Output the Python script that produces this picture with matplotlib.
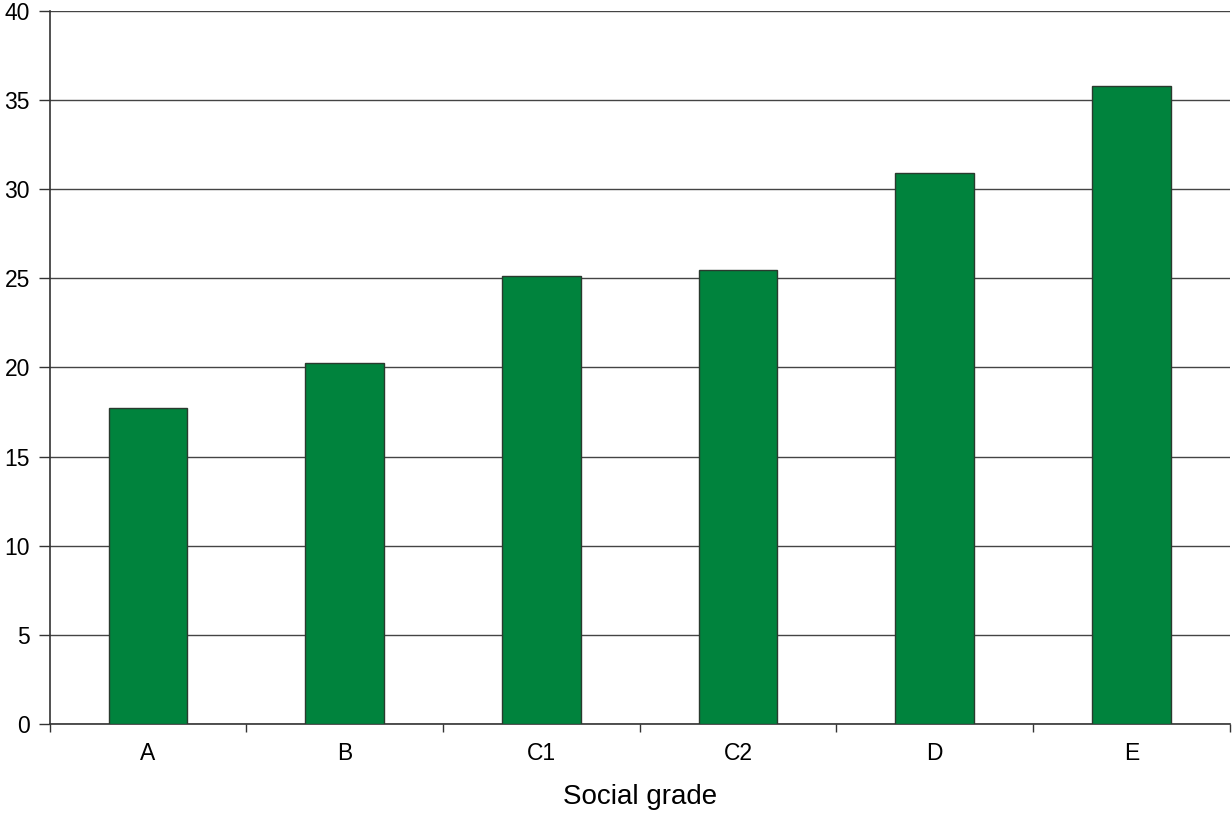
import matplotlib
matplotlib.use("Agg")
import matplotlib.pyplot as plt
import numpy as np

plt.rcParams["font.family"] = ["Liberation Sans", "DejaVu Sans"]

grades = ["A", "B", "C1", "C2", "D", "E"]
values = [17.7, 20.25, 25.1, 25.45, 30.9, 35.8]
y_ticks = [0, 5, 10, 15, 20, 25, 30, 35, 40]

fig = plt.figure(figsize=(12.32, 8.15), dpi=100)
ax = fig.add_axes([0.0402, 0.1117, 0.958, 0.875])

x = np.arange(len(grades))
ax.bar(x, values, width=0.4, color="#00833d", edgecolor="#2a3a2e", linewidth=1.0, zorder=3)

ax.set_xlim(-0.5, len(grades) - 0.5)
ax.set_ylim(0, 40)
ax.set_yticks(y_ticks)
ax.yaxis.grid(True, color="#444444", linewidth=1.0, zorder=0)

ax.set_xticks(x)
ax.set_xticklabels(grades)
ax.set_xticks(np.arange(len(grades) + 1) - 0.5, minor=True)
ax.tick_params(axis="x", which="major", length=0, pad=13, labelsize=16.5)
ax.tick_params(axis="x", which="minor", length=6, width=1.0, color="#333333", direction="out")
ax.tick_params(axis="y", length=8, width=1.0, color="#333333", labelsize=16.5, pad=6)

for side in ["top", "right"]:
    ax.spines[side].set_visible(False)
for side in ["left", "bottom"]:
    ax.spines[side].set_color("#333333")
    ax.spines[side].set_linewidth(1.2)

ax.set_xlabel("Social grade", fontsize=20, labelpad=14)

fig.savefig("out.png", dpi=100)
